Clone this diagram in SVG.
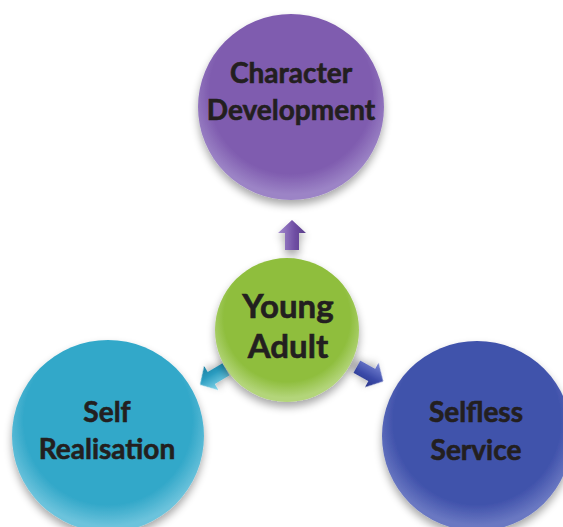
<svg xmlns="http://www.w3.org/2000/svg" width="563" height="527" viewBox="0 0 563 527">
<style>
.lbl{font-family:Lato,"Open Sans","Liberation Sans",sans-serif;font-weight:bold;fill:#231f20;stroke:#231f20;stroke-width:0.6;text-anchor:middle}
</style>
<defs>
<filter id="sh" x="-20%" y="-20%" width="140%" height="150%">
<feGaussianBlur in="SourceAlpha" stdDeviation="4"/>
<feOffset dx="0" dy="5" result="b"/>
<feComponentTransfer><feFuncA type="linear" slope="0.35"/></feComponentTransfer>
<feMerge><feMergeNode/><feMergeNode in="SourceGraphic"/></feMerge>
</filter>
<radialGradient id="gP" cx="50%" cy="42%" r="55%"><stop offset="0.8" stop-color="#7f5caf"/><stop offset="1" stop-color="#9c84c6"/></radialGradient>
<radialGradient id="gG" cx="50%" cy="42%" r="55%"><stop offset="0.8" stop-color="#8fbe3e"/><stop offset="1" stop-color="#b3d57a"/></radialGradient>
<radialGradient id="gC" cx="50%" cy="42%" r="55%"><stop offset="0.8" stop-color="#33a8c9"/><stop offset="1" stop-color="#6cc3dc"/></radialGradient>
<radialGradient id="gB" cx="50%" cy="42%" r="55%"><stop offset="0.8" stop-color="#4052ab"/><stop offset="1" stop-color="#6a78c2"/></radialGradient>
<linearGradient id="aP" x1="0" y1="0" x2="1" y2="0"><stop offset="0" stop-color="#a48bd0"/><stop offset="0.6" stop-color="#6f4ea3"/><stop offset="1" stop-color="#5a3d8a"/></linearGradient>
<linearGradient id="aC" x1="0" y1="0" x2="1" y2="0"><stop offset="0" stop-color="#8ad8ec"/><stop offset="0.6" stop-color="#2a9cc0"/><stop offset="1" stop-color="#1b7fa0"/></linearGradient>
<linearGradient id="aB" x1="0" y1="0" x2="1" y2="0"><stop offset="0" stop-color="#7d8ad6"/><stop offset="0.6" stop-color="#3a49a8"/><stop offset="1" stop-color="#2a3688"/></linearGradient>
<polygon id="arr" points="0,-15 14,-2 7,-2 7,15 -7,15 -7,-2 -14,-2"/>
</defs>
<g id="connectors">
<use href="#arr" fill="url(#aP)" filter="url(#sh)" transform="translate(292,235)"/>
<use href="#arr" fill="url(#aC)" filter="url(#sh)" transform="translate(213,377) rotate(-120.6)"/>
<use href="#arr" fill="url(#aB)" filter="url(#sh)" transform="translate(370,374) rotate(119.1)"/>
</g>
<g id="character-development">
<circle cx="291" cy="107" r="93" fill="url(#gP)" filter="url(#sh)"/>
<text class="lbl" x="291" y="83" font-size="28">Character</text>
<text class="lbl" x="291" y="120" font-size="28">Development</text>
</g>
<g id="young-adult">
<circle cx="287" cy="330" r="72" fill="url(#gG)" filter="url(#sh)"/>
<text class="lbl" x="288" y="318" font-size="33">Young</text>
<text class="lbl" x="288" y="358" font-size="33">Adult</text>
</g>
<g id="self-realisation">
<circle cx="108" cy="436" r="96" fill="url(#gC)" filter="url(#sh)"/>
<text class="lbl" x="107" y="422" font-size="28">Self</text>
<text class="lbl" x="107" y="459" font-size="28">Realisation</text>
</g>
<g id="selfless-service">
<circle cx="477" cy="436" r="95" fill="url(#gB)" filter="url(#sh)"/>
<text class="lbl" x="476" y="422" font-size="28">Selfless</text>
<text class="lbl" x="476" y="460" font-size="28">Service</text>
</g>
</svg>
